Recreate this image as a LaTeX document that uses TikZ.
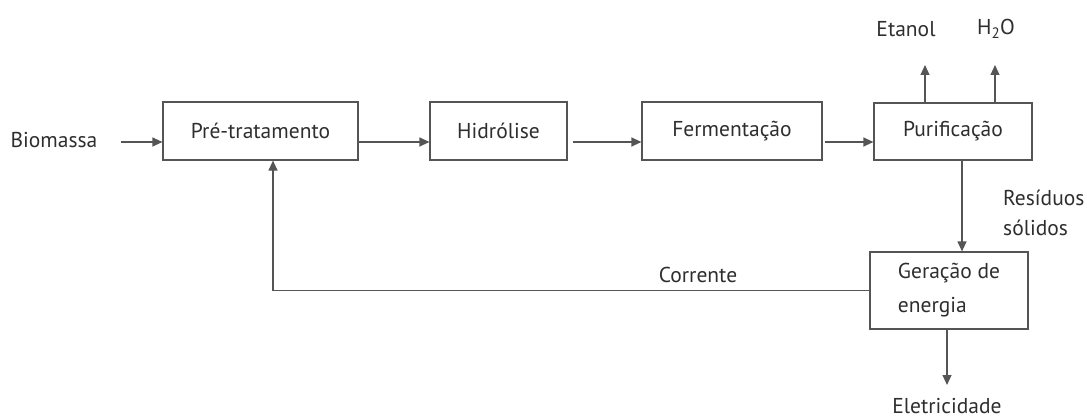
\documentclass[tikz,border=0pt]{standalone}
\usepackage{fontspec}
\setmainfont{PT Sans}
\usetikzlibrary{arrows.meta}
\definecolor{linegray}{HTML}{555555}
\definecolor{textgray}{HTML}{2E2E2E}
\begin{document}
\begin{tikzpicture}[x=1pt,y=-1pt,
  font=\fontsize{21.5}{26}\selectfont, text=textgray,
  procbox/.style={draw=linegray, line width=1.2pt, minimum height=58pt, inner sep=0pt},
  flow/.style={draw=linegray, line width=1.2pt, -{Triangle[length=10pt,width=9pt]}},
  lbl/.style={inner sep=0pt}]
\useasboundingbox (0,0) rectangle (1087,417);

% process boxes
\node[procbox, minimum width=195pt] (pre)  at (260.5,131) {Pré-tratamento};
\node[procbox, minimum width=137pt] (hid)  at (498.5,131) {Hidrólise};
\node[procbox, minimum width=180pt] (ferm) at (732,131)   {Fermentação};
\node[procbox, minimum width=158pt, minimum height=57pt] (pur) at (953,131.5) {Purificação};
\node[procbox, minimum width=158pt, minimum height=77pt, align=left] (gen) at (949,290.5)
  {Geração de\\[8pt]energia};

% labels
\node[lbl] (bio) at (54,140) {Biomassa};
\node[lbl] (eta) at (906,29) {Etanol};
\node[lbl] (h2o) at (996,29) {H\textsubscript{2}O};
\node[lbl, align=left, anchor=west] (res) at (1003,213) {Resíduos\\[4pt]sólidos};
\node[lbl, anchor=base] (ele) at (947,413) {Eletricidade};
\node[lbl] (cor) at (698,275) {Corrente};

% helper points
\coordinate (row) at (0,142);
\coordinate (bioend) at (121,142);
\coordinate (etaup) at (925,65);
\coordinate (h2oup) at (995,65);
\coordinate (eletip) at (947,385);
\coordinate (loop) at (273,0);

% main line of the process
\draw[flow] (bioend) -- (pre.west |- row);
\draw[flow] (pre.east |- row) -- (hid.west |- row);
\draw[flow] ([xshift=5pt]hid.east |- row) -- (ferm.west |- row);
\draw[flow] ([xshift=2pt]ferm.east |- row) -- (pur.west |- row);

% products
\draw[flow] (pur.north -| etaup) -- (etaup);
\draw[flow] (pur.north -| h2oup) -- (h2oup);
\draw[flow] ([xshift=9pt]pur.south) -- ([xshift=13pt]gen.north);
\draw[flow] (gen.south -| eletip) -- (eletip);

% recycled stream back to pretreatment
\draw[flow] (gen.west) -| (loop |- pre.south);
\end{tikzpicture}
\end{document}
